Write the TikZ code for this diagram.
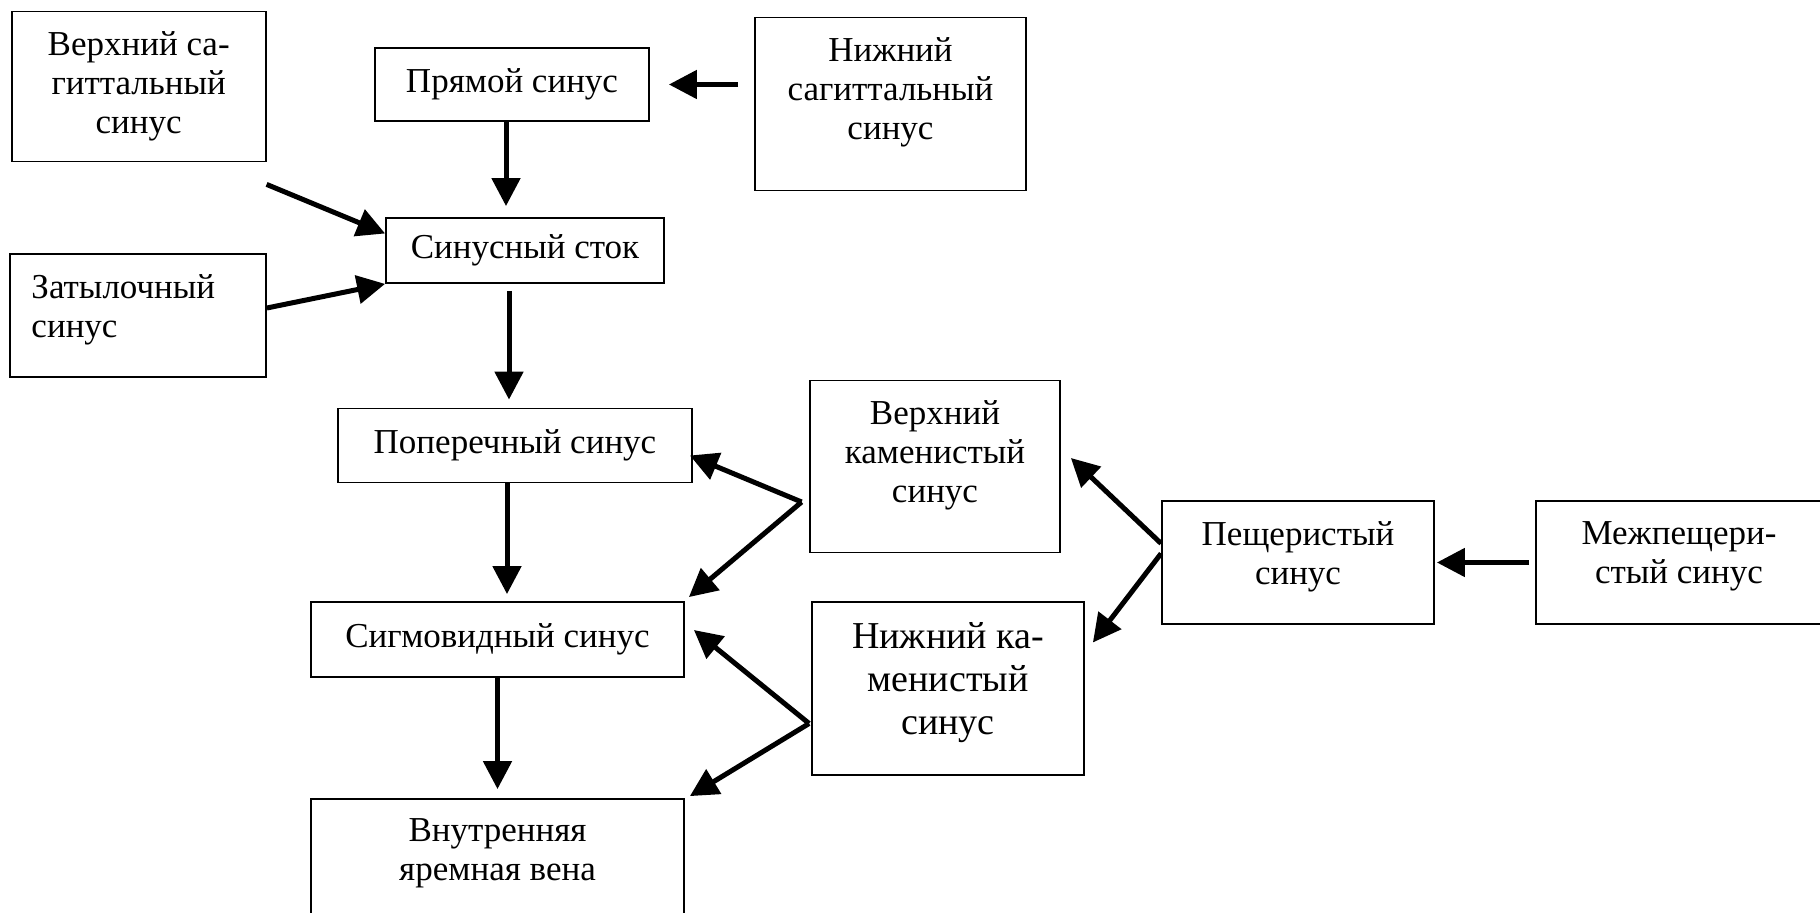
\documentclass[tikz,border=0pt]{standalone}
\usepackage{fontspec}
\setmainfont{Liberation Serif}
\usetikzlibrary{arrows.meta}
\tikzset{
    ramka/.style={draw, line width=0.9pt, inner sep=0pt, font=\fontsize{17.5}{19.5}\selectfont},
    nadpis/.style={anchor=north, align=center, inner sep=0pt, yshift=-10.5pt, font=\fontsize{17.5}{19.5}\selectfont},
    strel/.style={line width=2.5pt, -{Triangle[length=14pt,width=14pt]}}
}
\begin{document}
\begin{tikzpicture}[x=0.5pt,y=-0.5pt]
    \clip (0,0) rectangle (1820,913);
    \node[ramka, minimum width=127pt, minimum height=75pt, label={[nadpis]north:{Верхний са-\\гиттальный\\синус}}] (vsag) at (138.7,86.5) {};
    \node[ramka, minimum width=137pt, minimum height=36.5pt] (pryam) at (512,84.5) {Прямой синус};
    \node[ramka, minimum width=135.5pt, minimum height=86.5pt, label={[nadpis]north:{Нижний\\сагиттальный\\синус}}] (nsag) at (890.5,104) {};
    \node[ramka, minimum width=139pt, minimum height=32.5pt] (stok) at (525,250.5) {Синусный сток};
    \node[ramka, minimum width=128pt, minimum height=61.5pt, label={[nadpis, anchor=north west, align=left, xshift=11pt]north west:{Затылочный\\синус}}] (zatyl) at (138,315.5) {};
    \node[ramka, minimum width=177pt, minimum height=37pt] (poper) at (515,445.5) {Поперечный синус};
    \node[ramka, minimum width=125pt, minimum height=86pt, label={[nadpis]north:{Верхний\\каменистый\\синус}}] (vkam) at (935,466.5) {};
    \node[ramka, minimum width=186.5pt, minimum height=37.5pt] (sigm) at (497.5,639.5) {Сигмовидный синус};
    \node[ramka, minimum width=136pt, minimum height=86.5pt, label={[nadpis, font=\fontsize{19}{21.5}\selectfont]north:{Нижний ка-\\менистый\\синус}}] (nkam) at (948,688.5) {};
    \node[ramka, minimum width=186.5pt, minimum height=90pt, label={[nadpis, yshift=0.5pt]north:{Внутренняя\\яремная вена}}] (vjv) at (497.5,889) {};
    \node[ramka, minimum width=136pt, minimum height=61.5pt, label={[nadpis]north:{Пещеристый\\синус}}] (pesh) at (1298,562.5) {};
    \node[ramka, minimum width=143pt, minimum height=61.5pt, label={[nadpis]north:{Межпещери-\\стый синус}}] (mezh) at (1679,562.5) {};
    \coordinate (vkamout) at ([xshift=-3.75pt,yshift=-17.75pt]vkam.west);
    \coordinate (nkamout) at ([xshift=-1pt,yshift=-17.5pt]nkam.west);
    \draw[strel, shorten <=8pt, shorten >=9.5pt] (nsag.west |- pryam.east) -- (pryam.east);
    \draw[strel, shorten >=5.5pt] ([xshift=-3pt]pryam.south) -- ([xshift=-3pt]pryam.south |- stok.north);
    \draw[strel] ([yshift=-11pt]vsag.south east) -- ([yshift=8.5pt]stok.west);
    \draw[strel] ([yshift=3.75pt]zatyl.east) -- (stok.south west);
    \draw[strel, shorten <=3.5pt, shorten >=4pt] ([xshift=-8pt]stok.south) -- ([xshift=-8pt]stok.south |- poper.north);
    \draw[strel, shorten >=3.5pt] ([xshift=-4pt]poper.south) -- ([xshift=-4pt]poper.south |- sigm.north);
    \draw[strel, shorten >=4.5pt] (sigm.south) -- (sigm.south |- vjv.north);
    \draw[strel] (vkamout) -- ([xshift=-1.5pt,yshift=-5pt]poper.east);
    \draw[strel] (vkamout) -- ([xshift=2pt,yshift=2pt]sigm.north east);
    \draw[strel] (nkamout) -- ([xshift=4.5pt,yshift=4.75pt]sigm.east);
    \draw[strel] (nkamout) -- ([xshift=2.5pt,yshift=1pt]vjv.north east);
    \draw[strel] ([yshift=9.5pt]pesh.west) -- ([xshift=5pt,yshift=4.25pt]vkam.east);
    \draw[strel] ([yshift=4.5pt]pesh.west) -- ([xshift=4pt,yshift=23pt]nkam.east);
    \draw[strel, shorten <=3pt, shorten >=1pt] (mezh.west) -- (pesh.east);
\end{tikzpicture}
\end{document}
